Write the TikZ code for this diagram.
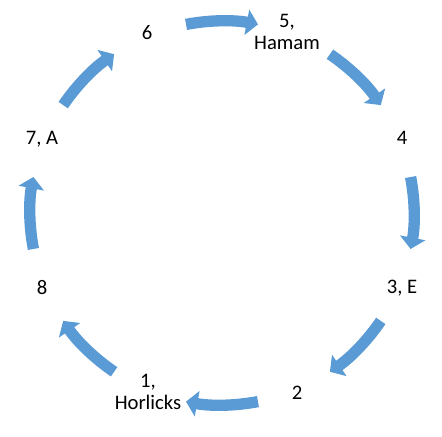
\documentclass[tikz,border=0pt]{standalone}
\usepackage{fontspec}
\setmainfont{Carlito}
\usepackage{tikz}
\usetikzlibrary{arrows.meta,positioning}
\definecolor{cycleblue}{RGB}{91,155,213}

\begin{document}
\begin{tikzpicture}[x=0.75pt,y=0.75pt,
    flowarrow/.style={draw=cycleblue,line width=8.5pt,
      -{Triangle[length=8.5pt,width=19pt]}},
    label/.style={font=\fontsize{15.5}{16.5}\selectfont,align=center,inner sep=0pt}]
  \useasboundingbox (0,0) rectangle (442,436);
  \coordinate (ctr) at (222,223);
  % labels round the cycle
  \node[label] (n6) at (147,403) {6};
  \node[label] (n5) at (287,404) {5,\\Hamam};
  \node[label] (n4) at (402,298) {4};
  \node[label] (n3) at (402,148) {3, E};
  \node[label] (n2) at (297,43) {2};
  \node[label] (n1) at (148,44) {1,\\Horlicks};
  \node[label] (n8) at (42,148) {8};
  \node[label] (n7) at (42,297) {7, A};
  % arrows, clockwise
  \foreach \a in {90,45,0,-45,-90,-135,180,135}
    \draw[flowarrow] (ctr) ++(\a+10.8:192) arc[start angle=\a+10.8,end angle=\a-10.8,radius=192];
\end{tikzpicture}
\end{document}
